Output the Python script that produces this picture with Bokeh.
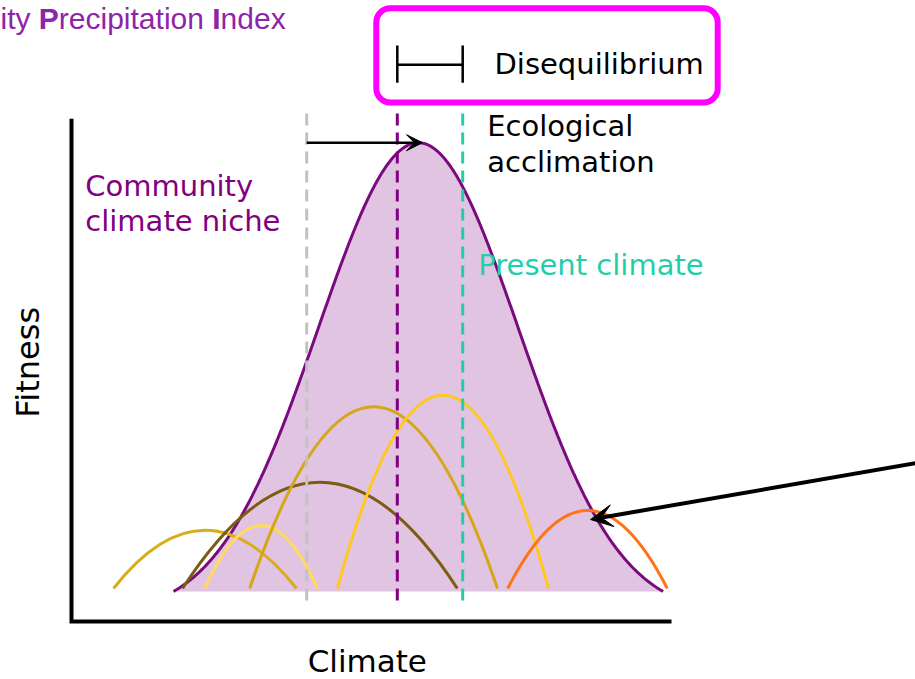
import numpy as np
from bokeh.plotting import figure
from bokeh.models import Range1d, Arrow, VeeHead
from bokeh.core.properties import value
from bokeh.embed import file_html
from bokeh.resources import INLINE

# ---------------- data (x: climate units, y: fitness units) ----------------
# community climate niche (bell-shaped envelope)
niche_center = 5.78
niche_sd = 1.67
niche_halfwidth = 4.08
niche_base = 0.50
niche_peak = 7.98

# individual species niches (parabolic arcs)
species_start = [0.70, 1.85, 2.22, 2.97, 4.43, 7.27]
species_end = [3.75, 6.43, 4.10, 7.10, 7.95, 9.93]
species_peak = [1.52, 2.32, 1.60, 3.58, 3.77, 1.85]
species_base = 0.55
species_colors = ["#D7AE1A", "#7A5C12", "#FFDA5C", "#D5A615", "#FFC81E", "#FF7417"]

# reference climates (dashed vertical lines)
climate_values = [3.92, 5.43, 6.52]       # past, community, present
climate_colors = ["#C2C2C2", "#800080", "#1FCFAA"]
climate_line_top = 8.55
climate_line_bottom = 0.35

# axes extent
axis_x_max = 10.0
axis_y_max = 8.38

# arrows
acclimation_end = 5.85
pointer_from = (14.30, 2.68)
pointer_to = (8.65, 1.70)

# legend
legend_box = dict(left=5.08, right=10.77, top=10.22, bottom=8.65)
legend_bar_y = 9.28
legend_cap = (8.98, 9.60)

# ---------------- layout ----------------
W, H = 915, 679
PPU = 60.0           # pixels per unit
OX, OY = 71, 621     # canvas pixel of the axes origin
x_range = Range1d(-OX / PPU, (W - OX) / PPU)
y_range = Range1d(-(H - OY) / PPU, OY / PPU)

p = figure(width=W, height=H, x_range=x_range, y_range=y_range,
           x_axis_type=None, y_axis_type=None, toolbar_location=None,
           output_backend="svg", min_border=0, outline_line_color=None)
p.background_fill_color = "white"
p.border_fill_color = "white"

# niche envelope
xs = np.linspace(niche_center - niche_halfwidth, niche_center + niche_halfwidth, 400)
e0 = np.exp(-niche_halfwidth ** 2 / (2 * niche_sd ** 2))
g = (np.exp(-(xs - niche_center) ** 2 / (2 * niche_sd ** 2)) - e0) / (1 - e0)
ys = niche_base + (niche_peak - niche_base) * g
p.varea(x=xs, y1=np.full_like(xs, niche_base), y2=ys, fill_color="#E1C4E1")
p.line(xs, ys, line_color="#7A0A7E", line_width=3)

# species arcs
mid = [(a + b) / 2 for a, b in zip(species_start, species_end)]
ctrl = [species_base + 2 * (h - species_base) for h in species_peak]
p.quadratic(x0=species_start, y0=[species_base] * 6, x1=species_end, y1=[species_base] * 6,
            cx=mid, cy=ctrl, line_color=species_colors, line_width=3)

# dashed climate lines
for xv, c in zip(climate_values, climate_colors):
    p.line([xv, xv], [climate_line_bottom, climate_line_top], line_color=c,
           line_width=3, line_dash="12 7")

# axes
p.line([0, 0, axis_x_max], [axis_y_max, 0, 0], line_color="black", line_width=4,
       line_join="miter")

# arrows
p.add_layout(Arrow(x_start=climate_values[0], y_start=niche_peak, x_end=acclimation_end,
                   y_end=niche_peak, line_width=2.5, line_color="black",
                   end=VeeHead(size=16, fill_color="black", line_color="black")))
p.add_layout(Arrow(x_start=pointer_from[0], y_start=pointer_from[1], x_end=pointer_to[0],
                   y_end=pointer_to[1], line_width=4, line_color="black",
                   end=VeeHead(size=22, fill_color="black", line_color="black")))

# legend box
p.quad(left=[legend_box["left"]], right=[legend_box["right"]], top=[legend_box["top"]],
       bottom=[legend_box["bottom"]], fill_color="white", line_color="#FF00FF",
       line_width=6, border_radius=14)
p.segment(x0=[climate_values[1]], y0=[legend_bar_y], x1=[climate_values[2]], y1=[legend_bar_y],
          line_color="black", line_width=2.5)
p.segment(x0=climate_values[1:], y0=[legend_cap[0]] * 2, x1=climate_values[1:],
          y1=[legend_cap[1]] * 2, line_color="black", line_width=2.5)

F = value("DejaVu Sans")
def txt(x, y, s, color="black", size=29, align="left", font=F, style="normal"):
    # y is the wanted baseline; bokeh places "alphabetic" a little lower, so lift it
    dy = 0.336 * size / PPU
    p.text(x=[x], y=[y + dy], text=[s], text_font=font, text_font_size=f"{size}px",
           text_color=color, text_align=align, text_baseline="alphabetic",
           text_font_style=style)

txt(7.05, 9.13, "Disequilibrium")
txt(6.93, 8.10, "Ecological")
txt(6.93, 7.50, "acclimation")
txt(0.23, 7.10, "Community", color="#800080")
txt(0.23, 6.52, "climate niche", color="#800080")
txt(6.78, 5.78, "Present climate", color="#1FCFAA")
txt(4.93, -0.83, "Climate", size=31, align="center")
p.text(x=[-0.72], y=[4.32], text=["Fitness"], text_font=F, text_font_size="32px",
       text_color="black", text_align="center", text_baseline="middle", angle=np.pi / 2)

# title (partially cut off at the left, with bold initials)
TF = value("Liberation Sans")
tsize = 30
tx0 = -OX / PPU
ty = (OY - 28.5) / PPU
txt(tx0, ty, "ity Precipitation Index", color="#8E24AA", size=tsize, font=TF)
txt(tx0 + 1.278 * tsize / PPU, ty, "P", color="#8E24AA", size=tsize, font=TF, style="bold")
txt(tx0 + 7.058 * tsize / PPU, ty, "I", color="#8E24AA", size=tsize, font=TF, style="bold")

open("out.html", "w").write(file_html(p, INLINE))
